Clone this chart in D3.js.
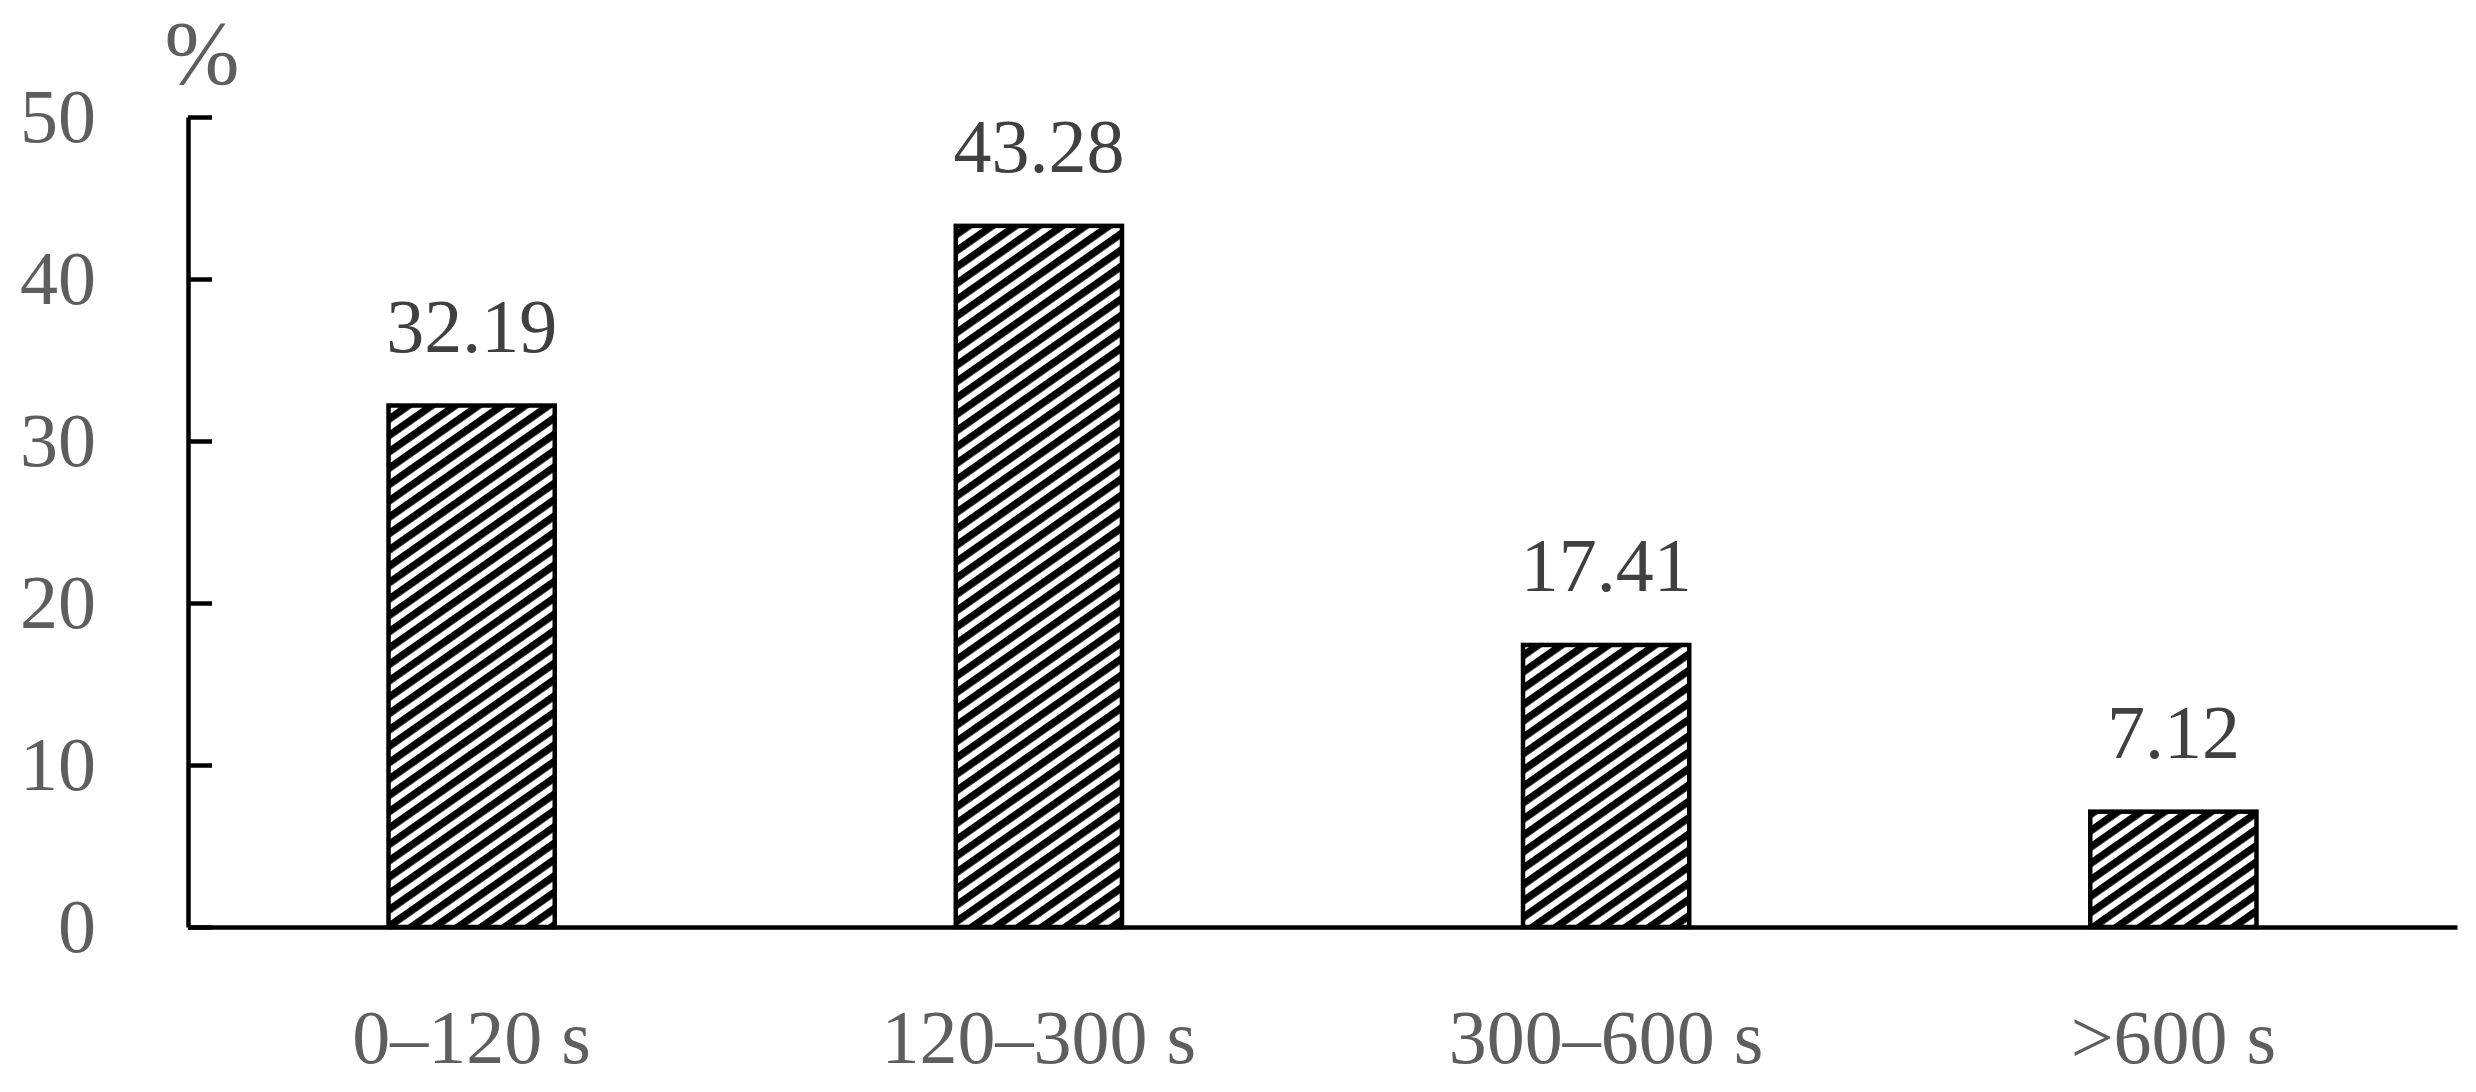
<!DOCTYPE html>
<html>
<head>
<meta charset="utf-8">
<script src="https://cdn.jsdelivr.net/npm/d3@7"></script>
<style>
  body { margin: 0; background: #fff; }
  text { font-family: "Palatino Linotype", "Book Antiqua", Palatino, "Liberation Serif", serif; }
</style>
</head>
<body>
<div id="chart-area"></div>
<script>
// duration classes and share of cases (%)
var categories = ["0\u2013120 s", "120\u2013300 s", "300\u2013600 s", ">600 s"]
var values = [32.19, 43.28, 17.41, 7.12]
var valueLabels = ["32.19", "43.28", "17.41", "7.12"]
var yTicks = [0, 10, 20, 30, 40, 50]

var width = 2476, height = 1092

var svg = d3.select("#chart-area")
  .append("svg")
  .attr("width", width)
  .attr("height", height)

// hatch fill for the bars
var defs = svg.append("defs")
var pat = defs.append("pattern")
  .attr("id", "hatch")
  .attr("patternUnits", "userSpaceOnUse")
  .attr("width", 10)
  .attr("height", 13.4)
  .attr("patternTransform", "rotate(-35)")
pat.append("rect").attr("width", 10).attr("height", 13.4).attr("fill", "#fff")
pat.append("rect").attr("width", 10).attr("height", 7.4).attr("fill", "#000")

var x = d3.scaleBand()
  .domain(categories)
  .range([188, 2457])
  .paddingInner(0.707)
  .paddingOuter(0.3535)

var y = d3.scaleLinear()
  .domain([0, 50])
  .range([927, 117])

// y axis, ticks pointing inward
var yAxis = d3.axisLeft(y)
  .tickValues(yTicks)
  .tickSizeInner(-24)
  .tickSizeOuter(0)
  .tickPadding(92)

var gy = svg.append("g")
  .attr("transform", "translate(188,0)")
  .call(yAxis)
gy.select(".domain").attr("stroke", "#000").attr("stroke-width", 4.5)
gy.selectAll(".tick line").attr("stroke", "#000").attr("stroke-width", 4.5)
gy.selectAll(".tick text")
  .attr("fill", "#5e5e5e")
  .style("font-size", "76px")
  .attr("font-family", null)

// x axis: plain line plus category labels
var xAxis = d3.axisBottom(x).tickSize(0).tickPadding(0)
var gx = svg.append("g")
  .attr("transform", "translate(0," + y(0) + ")")
  .call(xAxis)
gx.select(".domain").attr("stroke", "#000").attr("stroke-width", 4.5)
gx.selectAll(".tick text")
  .attr("fill", "#5e5e5e")
  .style("font-size", "76px")
  .attr("font-family", null)
  .attr("y", 1063 - y(0))
  .attr("dy", null)

svg.append("text")
  .attr("x", 202)
  .attr("y", 84)
  .attr("text-anchor", "middle")
  .attr("fill", "#5e5e5e")
  .style("font-size", "90px")
  .text("%")

var rows = categories.map(function(c, i) {
  return { name: c, value: values[i], label: valueLabels[i] }
})

svg.selectAll("rect.bar")
  .data(rows)
  .enter()
  .append("rect")
  .attr("class", "bar")
  .attr("x", function(d) { return x(d.name) })
  .attr("y", function(d) { return y(d.value) })
  .attr("width", x.bandwidth())
  .attr("height", function(d) { return y(0) - y(d.value) })
  .attr("fill", "url(#hatch)")
  .attr("stroke", "#000")
  .attr("stroke-width", 4.5)

svg.selectAll("text.val")
  .data(rows)
  .enter()
  .append("text")
  .attr("class", "val")
  .attr("x", function(d) { return x(d.name) + x.bandwidth() / 2 })
  .attr("y", function(d) { return y(d.value) - 54 })
  .attr("text-anchor", "middle")
  .attr("fill", "#404040")
  .style("font-size", "76px")
  .text(function(d) { return d.label })
</script>
</body>
</html>
